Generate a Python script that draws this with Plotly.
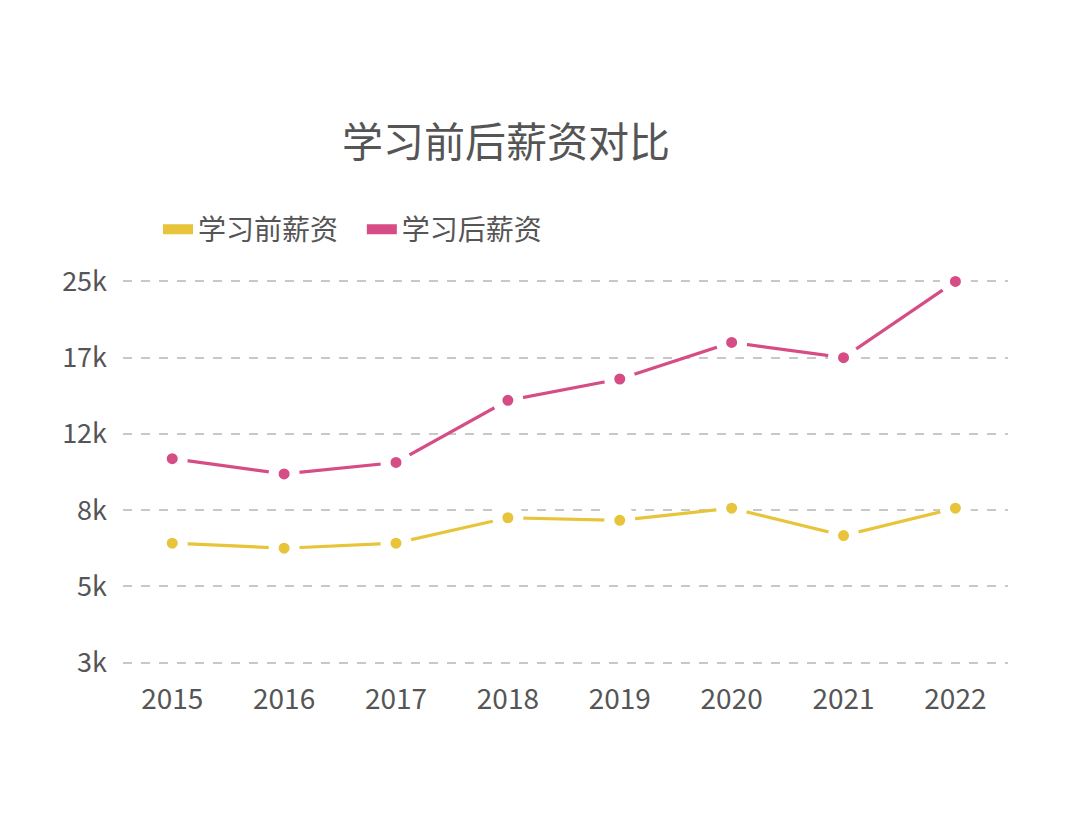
import numpy as np
import plotly.graph_objects as go

years = ["2015", "2016", "2017", "2018", "2019", "2020", "2021", "2022"]
before = [6700, 6500, 6700, 7700, 7600, 8100, 7000, 8100]
after = [10700, 9900, 10500, 14200, 15600, 18600, 17000, 25000]
tick_values = [3000, 5000, 8000, 12000, 17000, 25000]
tick_labels = ["3k", "5k", "8k", "12k", "17k", "25k"]

name_before = "学习前薪资"
name_after = "学习后薪资"
title = "学习前后薪资对比"

c_before = "#E8C43A"
c_after = "#D64C85"
font = "Noto Sans CJK SC, Noto Sans, sans-serif"

# the axis places the tick values evenly: map values onto that scale
pos = list(range(len(tick_values)))
def scale(v):
    return np.interp(v, tick_values, pos)

fig = go.Figure()
for name, vals, col, pad in [(name_before, before, c_before, "   "), (name_after, after, c_after, " ")]:
    fig.add_trace(go.Scatter(
        x=years, y=scale(vals), mode="lines+markers", name=name,
        line=dict(color=col, width=3.2),
        marker=dict(color=col, size=21, line=dict(color="white", width=10)),
        showlegend=False, customdata=vals,
        hovertemplate="%{x}: %{customdata}<extra>" + name + "</extra>",
    ))
    fig.add_trace(go.Scatter(
        x=[None], y=[None], mode="lines", name=name + pad,
        line=dict(color=col, width=17), showlegend=True,
    ))

fig.update_layout(
    width=1080, height=821,
    paper_bgcolor="white", plot_bgcolor="white",
    margin=dict(l=123, r=72, t=270, b=147, autoexpand=False),
    font=dict(family=font, color="#555555", size=26),
    title=dict(text=title, x=506 / 1080, xanchor="center", xref="container",
               y=1 - 143 / 821, yanchor="middle", yref="container",
               font=dict(size=41, color="#555555", family=font)),
    legend=dict(orientation="h", x=(158 - 123) / 885, xanchor="left", xref="paper",
                y=1 + (269.5 - 229) / 404.5, yanchor="middle", yref="paper",
                font=dict(size=28, color="#555555", family=font),
                itemwidth=30, tracegroupgap=0, bgcolor="rgba(0,0,0,0)"),
    xaxis=dict(type="category", range=[-0.44, 7.47], showgrid=False, showline=False,
               zeroline=False, ticks="", tickfont=dict(size=28, color="#555555"),
               ticklabelstandoff=6, automargin=False),
    yaxis=dict(range=[-0.15, 5.15], tickvals=pos, ticktext=tick_labels,
               showgrid=True, gridcolor="#c8c8c8", griddash="dash", gridwidth=1.5,
               zeroline=False, showline=False, ticks="",
               tickfont=dict(size=27, color="#555555"), ticklabelstandoff=15,
               automargin=False),
    showlegend=True,
)

fig.write_html("out.html", config={"displayModeBar": False},
               post_script="document.body.style.margin='0px';")
